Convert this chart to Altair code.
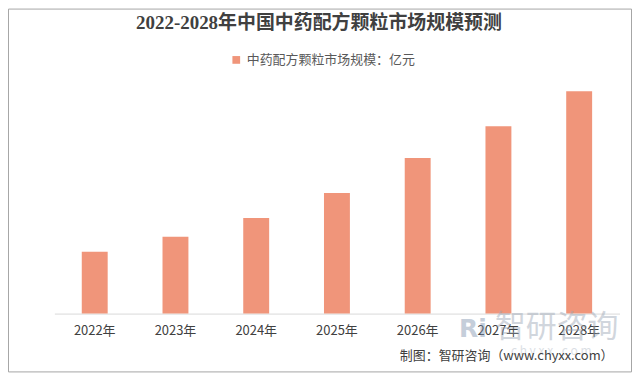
import altair as alt
import pandas as pd

years = ["2022年", "2023年", "2024年", "2025年", "2026年", "2027年", "2028年"]
values = [62, 77, 96, 121, 156, 188, 223]
series_name = "中药配方颗粒市场规模：亿元"
title_text = "2022-2028年中国中药配方颗粒市场规模预测"
source_text = "制图：智研咨询（www.chyxx.com）"
watermark_text = "智研咨询"
watermark_url = "c h y x x . c o m"

df = pd.DataFrame({"year": years, "value": values, "series": [series_name] * len(years)})

W, H = 567, 234
bar_color = "#F0957A"
font = "Noto Sans CJK SC"

bars = alt.Chart(df).mark_bar(color=bar_color, size=26).encode(
    x=alt.X("year:N", sort=years, title=None,
            scale=alt.Scale(paddingInner=0.0, paddingOuter=0.0),
            axis=alt.Axis(labelAngle=0, labelFontSize=13, labelColor="#404040",
                          labelFont=font, labelPadding=11, ticks=False,
                          domainColor="#D9D9D9", grid=False)),
    y=alt.Y("value:Q", title=None, scale=alt.Scale(domain=[0, 234]), axis=None),
    color=alt.Color("series:N", scale=alt.Scale(range=[bar_color]),
                    legend=alt.Legend(title=None, orient="none", legendX=176, legendY=-27,
                                      symbolType="square", symbolSize=60, labelLimit=400,
                                      labelFontSize=13, labelColor="#595959",
                                      labelFont=font, symbolStrokeWidth=0)),
)

one = pd.DataFrame({"k": [0]})
frame_color = "#A6A6A6"
L, R, T, B = -46, 579, -71.5, 292.5
frame = alt.layer(
    alt.Chart(one).mark_rule(color=frame_color).encode(x=alt.value(L), x2=alt.value(R), y=alt.value(T)),
    alt.Chart(one).mark_rule(color=frame_color).encode(x=alt.value(L), x2=alt.value(R), y=alt.value(B)),
    alt.Chart(one).mark_rule(color=frame_color).encode(x=alt.value(L), y=alt.value(T), y2=alt.value(B)),
    alt.Chart(one).mark_rule(color=frame_color).encode(x=alt.value(R), y=alt.value(T), y2=alt.value(B)),
)

title = alt.Chart(one).mark_text(align="center", baseline="middle", fontSize=19,
                                  font="Liberation Serif, " + font, fontWeight="bold",
                                  color="#404040").encode(
    x=alt.value(265.5), y=alt.value(-58), text=alt.value(title_text)
)

source = alt.Chart(one).mark_text(align="right", baseline="middle", fontSize=13,
                                   color="#404040", font=font).encode(
    x=alt.value(561), y=alt.value(277), text=alt.value(source_text)
)

watermark = alt.Chart(one).mark_text(align="left", baseline="middle", fontSize=31,
                                      color="#9AA5B4", opacity=0.45, font=font).encode(
    x=alt.value(442), y=alt.value(248), text=alt.value(watermark_text)
)
watermark_logo = alt.Chart(one).mark_text(align="left", baseline="middle", fontSize=25,
                                           fontWeight="bold", color="#7F93AE", opacity=0.45,
                                           font="DejaVu Sans").encode(
    x=alt.value(406), y=alt.value(249), text=alt.value("Ri")
)
watermark2 = alt.Chart(one).mark_text(align="left", baseline="middle", fontSize=12,
                                       color="#9AA5B4", opacity=0.35, font=font).encode(
    x=alt.value(458), y=alt.value(272), text=alt.value(watermark_url)
)

chart = alt.layer(frame, bars, watermark_logo, watermark, watermark2, source, title).properties(
    width=W, height=H,
    autosize=alt.AutoSizeParams(type="none"),
    padding={"left": 46.5, "top": 72, "right": 12.5, "bottom": 59},
    view=alt.ViewBackground(strokeWidth=0, strokeOpacity=0),
).configure_view(stroke="transparent", strokeWidth=0, strokeOpacity=0).configure(background="white")

chart.save("out.html", embed_options={"renderer": "svg", "actions": False})
